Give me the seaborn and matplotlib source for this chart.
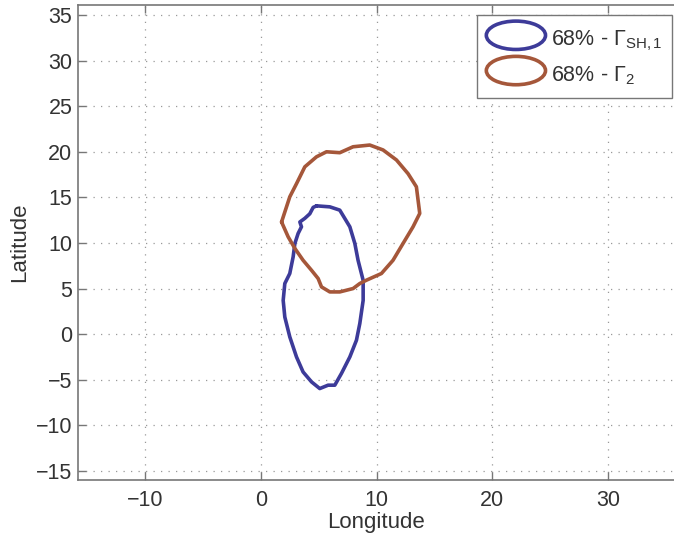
import matplotlib
matplotlib.use("Agg")
import matplotlib.pyplot as plt
import seaborn as sns
import numpy as np
import pandas as pd
from matplotlib.patches import Ellipse
from matplotlib.legend_handler import HandlerPatch

# ---- data ----
blue_lon = [4.81, 5.96, 6.82, 7.69, 8.12, 8.40, 8.84, 8.84, 8.55, 8.26, 7.69, 6.97, 6.39, 5.81, 5.09,
            4.38, 3.65, 3.08, 2.50, 2.07, 1.93, 2.07, 2.50, 2.79, 2.94, 3.22, 3.51, 3.37, 3.80, 4.23, 4.52, 4.81]
blue_lat = [14.07, 13.96, 13.60, 11.77, 9.95, 8.10, 5.90, 3.70, 1.16, -0.67, -2.50, -4.30, -5.60, -5.60, -5.97,
            -5.24, -4.15, -2.50, -0.30, 1.88, 3.70, 5.55, 6.65, 8.47, 9.95, 11.04, 11.77, 12.30, 12.70, 13.20, 13.90, 14.07]

brown_lon = [1.79, 2.50, 3.08, 3.80, 4.81, 5.67, 6.82, 7.97, 9.41, 10.56, 11.72, 12.72, 13.44, 13.73, 13.15,
             12.29, 11.42, 10.42, 9.13, 8.55, 7.97, 6.82, 5.96, 5.24, 4.95, 4.38, 3.65, 2.94, 2.36, 1.79]
brown_lat = [12.30, 15.06, 16.50, 18.35, 19.45, 20.00, 19.90, 20.55, 20.74, 20.20, 19.10, 17.60, 16.16, 13.24, 11.77,
             9.95, 8.10, 6.65, 5.92, 5.55, 5.00, 4.63, 4.63, 5.18, 6.10, 7.00, 8.10, 9.40, 10.67, 12.30]

labels = [r"68% - $\Gamma_{\mathrm{SH,1}}$", r"68% - $\Gamma_{2}$"]
colors = ["#3d3b99", "#a5573a"]
x_ticks = [-10, 0, 10, 20, 30]
y_ticks = [-15, -10, -5, 0, 5, 10, 15, 20, 25, 30, 35]

sns.set_theme(style="white")
plt.rcParams["font.family"] = ["Liberation Sans", "DejaVu Sans"]
plt.rcParams["mathtext.fontset"] = "custom"
plt.rcParams["mathtext.rm"] = "Liberation Sans"
plt.rcParams["mathtext.it"] = "Liberation Sans:italic"
plt.rcParams["mathtext.bf"] = "Liberation Sans:bold"

fig = plt.figure(figsize=(6.74, 5.4), dpi=100)
ax = fig.add_axes([78 / 674, 60 / 540, 596 / 674, 475 / 540])

df_b = pd.DataFrame({"lon": blue_lon, "lat": blue_lat})
df_r = pd.DataFrame({"lon": brown_lon, "lat": brown_lat})
sns.lineplot(data=df_b, x="lon", y="lat", sort=False, estimator=None, color=colors[0], lw=2.6, ax=ax)
sns.lineplot(data=df_r, x="lon", y="lat", sort=False, estimator=None, color=colors[1], lw=2.6, ax=ax)

ax.set_xlim(-15.8, 35.7)
ax.set_ylim(-16.0, 36.1)
ax.set_xticks(x_ticks)
ax.set_yticks(y_ticks)
ax.grid(True, linestyle=(0, (1, 5)), color="#999999", lw=0.9)
for side in ["left", "bottom", "top"]:
    ax.spines[side].set_color("#777777")
    ax.spines[side].set_linewidth(1.2)
ax.spines["right"].set_visible(False)
ax.tick_params(direction="in", length=6, width=1, color="#777777", labelsize=15.5,
               labelcolor="#333333", top=True, bottom=True, left=True, right=False)
ax.tick_params(axis="x", pad=7)
ax.tick_params(axis="y", pad=4)
ax.set_xlabel("Longitude", fontsize=16, color="#333333", labelpad=1)
ax.set_ylabel("Latitude", fontsize=16, color="#333333", labelpad=4)


class HandlerEllipse(HandlerPatch):
    def create_artists(self, legend, orig_handle, xdescent, ydescent, width, height, fontsize, trans):
        center = 0.5 * width - 0.5 * xdescent, 0.5 * height - 0.5 * ydescent
        p = Ellipse(xy=center, width=width, height=height, facecolor="none",
                    edgecolor=orig_handle.get_edgecolor(), lw=2.6)
        p.set_transform(trans)
        return [p]


handles = [Ellipse((0, 0), 1, 1, facecolor="none", edgecolor=c) for c in colors]
leg = ax.legend(handles, labels, handler_map={Ellipse: HandlerEllipse()},
                loc="upper right", bbox_to_anchor=(672 / 674, 1 - 15 / 540),
                bbox_transform=fig.transFigure, fontsize=15.5, handlelength=2.75, handleheight=1.65,
                handletextpad=0.25, labelspacing=0.3, borderpad=0.45, borderaxespad=0,
                frameon=True, fancybox=False, edgecolor="#777777", framealpha=1)
leg.get_frame().set_linewidth(1.0)
for t in leg.get_texts():
    t.set_color("#333333")

fig.savefig("out.png", dpi=100)
